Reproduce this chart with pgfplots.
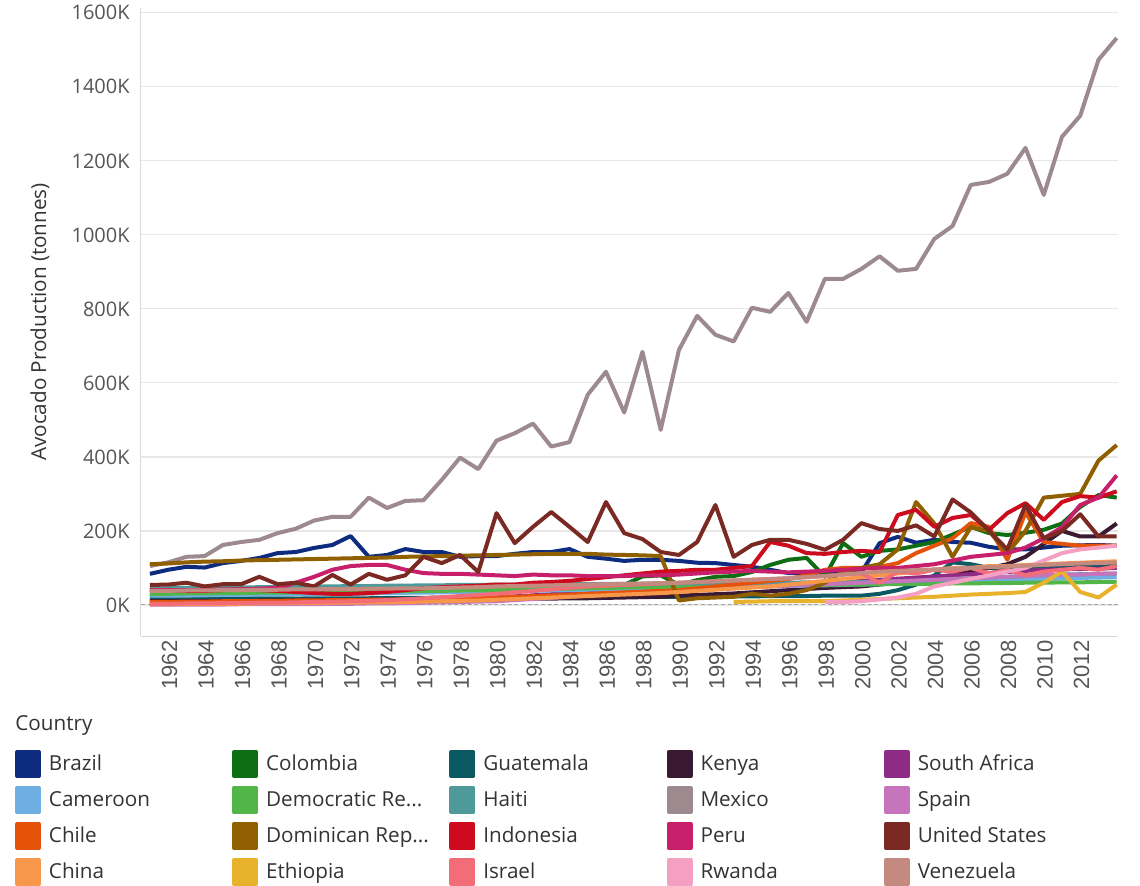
\documentclass[border=0pt]{standalone}
\usepackage{pgfplots}
\pgfplotsset{compat=1.18}
\usepackage{pgfplotstable}
\usepackage{fontspec}
\setmainfont{Open Sans}
\newfontfamily\tickfont{Liberation Sans}

\definecolor{cBra}{HTML}{0D2C7F}
\definecolor{cCam}{HTML}{6FAEE2}
\definecolor{cChl}{HTML}{E5530B}
\definecolor{cChn}{HTML}{F7974B}
\definecolor{cCol}{HTML}{0E6E14}
\definecolor{cCod}{HTML}{52B548}
\definecolor{cDom}{HTML}{8F5F00}
\definecolor{cEth}{HTML}{E8B22D}
\definecolor{cGua}{HTML}{0B5962}
\definecolor{cHai}{HTML}{4E9A9A}
\definecolor{cInd}{HTML}{CE0A1F}
\definecolor{cIsr}{HTML}{F26D78}
\definecolor{cKen}{HTML}{3A1A33}
\definecolor{cMex}{HTML}{9D8A8F}
\definecolor{cPer}{HTML}{C81F6A}
\definecolor{cRwa}{HTML}{F5A0C3}
\definecolor{cZaf}{HTML}{8E2C85}
\definecolor{cEsp}{HTML}{C675BC}
\definecolor{cUsa}{HTML}{7A2A22}
\definecolor{cVen}{HTML}{C48A80}
\definecolor{tickgray}{HTML}{555555}
\definecolor{legtext}{HTML}{333333}

% production in thousand tonnes, one row per country
\pgfplotstableread{
name 1961 1962 1963 1964 1965 1966 1967 1968 1969 1970 1971 1972 1973 1974 1975 1976 1977 1978 1979 1980 1981 1982 1983 1984 1985 1986 1987 1988 1989 1990 1991 1992 1993 1994 1995 1996 1997 1998 1999 2000 2001 2002 2003 2004 2005 2006 2007 2008 2009 2010 2011 2012 2013 2014
Bra 84 95 103 101 113 119 127 140 143 154 162 186 130 135 151 143 143 130 132 132 138 143 143 151 130 125 119 122 122 119 114 113 108 103 95 86 86 86 86 88 167 184 168 176 170 168 157 150 150 155 160 161 162 160
Cam 25 25 26 26 27 27 28 28 29 29 30 30 31 32 33 33 34 35 35 36 37 38 39 40 41 42 43 44 45 45 46 47 48 49 50 51 52 53 54 55 56 58 60 62 64 65 66 68 69 70 72 73 74 75
Chl 8 8 9 9 10 10 11 11 12 12 13 13 14 14 15 16 17 18 19 20 22 24 26 28 30 32 34 36 38 40 45 50 55 60 65 70 80 95 100 100 103 113 140 160 180 221 211 122 250 170 165 160 160 160
Chn 2 2 2 3 3 3 4 4 5 5 6 6 7 7 8 9 10 11 12 14 16 18 20 22 24 26 28 30 32 35 38 41 44 47 50 55 60 65 70 75 80 85 90 95 100 100 105 105 108 110 112 114 116 118
Col 25 25 26 26 27 27 28 28 29 30 30 31 32 33 34 35 36 37 38 40 40 41 42 43 45 48 54 77 80 54 67 76 78 89 108 122 127 76 167 130 146 150 160 170 190 211 194 189 195 203 220 265 297 290
Cod 30 30 31 31 32 32 33 33 34 35 35 36 36 37 37 38 38 39 39 40 41 42 43 44 45 46 47 48 49 50 50 51 52 52 53 53 54 54 55 55 56 56 57 57 58 58 59 59 60 60 61 61 62 62
Dom 110 112 115 117 118 120 121 122 123 124 125 126 127 128 130 131 132 133 134 135 136 137 138 138 138 136 135 134 132 12 18 20 22 30 25 30 40 60 90 100 110 150 278 220 130 210 200 140 200 290 295 300 390 432
Eth nan nan nan nan nan nan nan nan nan nan nan nan nan nan nan nan nan nan nan nan nan nan nan nan nan nan nan nan nan nan nan nan 8 9 10 10 10 10 12 14 16 18 20 22 25 28 30 32 35 60 90 35 20 55
Gua 15 15 15 16 16 16 17 17 17 18 18 18 18 19 19 19 20 20 20 20 21 21 21 21 22 22 22 22 22 22 22 23 23 23 24 24 24 25 25 25 30 40 55 80 115 110 100 95 100 100 103 105 107 110
Hai 45 45 46 46 47 47 48 48 49 50 50 51 51 52 52 53 53 54 54 55 55 55 56 56 56 57 57 57 58 58 58 59 59 60 60 60 61 61 62 62 63 64 65 67 70 72 74 76 78 80 82 83 84 85
Ind 40 40 38 38 40 42 40 38 35 32 30 30 32 35 40 45 48 50 52 55 55 60 62 65 70 75 80 85 90 92 95 95 100 105 170 160 140 138 143 146 143 243 257 211 235 243 203 248 275 230 278 294 290 307
Isr 3 3 4 4 5 5 6 6 7 8 9 10 11 13 15 18 21 24 27 30 34 38 42 46 50 52 54 56 58 60 62 64 66 68 70 72 75 78 82 85 60 90 85 95 90 100 85 95 80 90 95 100 95 105
Ken 10 10 10 11 11 11 12 12 12 13 13 13 14 14 14 15 15 15 16 16 16 17 17 18 18 19 20 21 22 25 27 29 31 34 37 40 43 46 48 50 55 60 65 75 80 90 100 110 130 165 200 185 185 220
Mex 105 115 130 132 162 170 176 194 206 228 238 238 290 262 281 283 338 398 367 444 464 490 428 440 568 630 520 684 473 689 781 730 712 803 792 843 765 881 881 908 942 903 908 989 1024 1135 1143 1165 1235 1108 1265 1322 1473 1532
Per 40 40 40 40 42 42 44 46 60 76 95 105 108 108 95 86 84 84 82 80 78 82 80 80 78 78 78 80 80 82 85 88 90 92 90 88 90 92 95 98 100 100 105 110 120 130 135 140 155 180 210 270 290 350
Rwa nan nan nan nan nan nan nan nan nan nan nan nan nan nan nan nan nan nan nan nan nan nan nan nan nan nan nan nan nan nan nan nan nan nan nan nan nan 8 8 10 15 20 30 50 60 70 80 90 100 120 140 150 155 160
Zaf 2 2 3 3 3 4 4 5 5 5 6 7 8 9 10 12 14 16 18 20 23 26 29 32 35 37 39 41 43 45 47 49 51 53 55 57 59 61 63 65 68 71 74 77 80 83 86 89 92 95 96 97 98 100
Esp 1 1 1 1 1 2 2 2 2 2 3 3 4 4 5 6 7 8 9 10 13 16 19 22 25 28 31 34 37 40 42 44 46 48 50 52 54 56 58 60 62 64 66 68 70 72 74 76 78 80 81 82 84 85
Usa 54 55 60 50 56 56 76 56 60 50 81 55 84 68 80 130 113 135 89 248 167 211 251 211 170 278 194 178 143 135 170 270 130 162 176 176 165 149 176 221 205 200 215 185 285 250 200 150 270 180 200 245 185 185
Ven 38 38 39 39 40 40 41 41 42 42 43 43 44 44 45 45 46 47 48 50 51 52 53 54 55 56 57 58 59 60 62 64 66 68 70 72 75 78 82 86 90 92 94 96 98 100 102 104 106 108 110 112 113 115
}\raw
\pgfplotstabletranspose[colnames from=name]\data{\raw}

\newcommand{\series}[3]{%
  \addplot[color=#2] table[x=colnames,y=#1]{\data};
  \addlegendentry{\makebox[137.4pt][l]{#3}}}

\begin{document}
\begin{tikzpicture}
\path[use as bounding box] (0,0) rectangle (855pt,-664.5pt);
\begin{axis}[
  at={(105.75pt,-477pt)}, anchor=south west,
  scale only axis, width=732.75pt, height=471pt,
  xmin=1960.51, xmax=2014.07, ymin=-84, ymax=1613,
  axis lines=left, axis line style={draw=black!15, -, line width=0.75pt},
  ymajorgrids, grid style={draw=black!9, line width=0.9pt},
  major tick length=0pt,
  ytick={0,200,400,600,800,1000,1200,1400,1600},
  yticklabels={0K,200K,400K,600K,800K,1000K,1200K,1400K,1600K},
  yticklabel style={font=\fontsize{15}{18}\selectfont, text=tickgray, xshift=-5pt},
  xtick={1962,1964,...,2012},
  xticklabel style={rotate=90, anchor=east, font=\tickfont\fontsize{16.5}{18}\selectfont, text=tickgray, yshift=-1pt,
    /pgf/number format/.cd, 1000 sep={}, assume math mode=true},
  ylabel={Avocado Production (tonnes)},
  ylabel style={at={(axis description cs:-0.1034,0.5)}, anchor=center, font=\fontsize{15.5}{18}\selectfont, text=legtext},
  every axis plot/.append style={line width=3pt, line join=round, no markers},
  unbounded coords=jump,
  legend columns=5,
  legend image code/.code={\fill[#1] (0pt,-9pt) rectangle (16.5pt,9pt);},
  legend style={at={(axis description cs:-0.129,-0.1815)}, anchor=north west,
    draw=none, fill=none, inner sep=0pt, outer sep=0pt, row sep=6pt,
    font=\fontsize{15.5}{18}\selectfont, text=legtext,
    nodes={inner sep=0pt, outer sep=0pt},
    /tikz/every odd column/.append style={column sep=6pt}},
]
\addplot[forget plot, draw=black!35, dotted, line width=0.75pt] coordinates {(1960.51,0) (2014.07,0)};
\series{Bra}{cBra}{Brazil}
\series{Col}{cCol}{Colombia}
\series{Gua}{cGua}{Guatemala}
\series{Ken}{cKen}{Kenya}
\series{Zaf}{cZaf}{South Africa}
\series{Cam}{cCam}{Cameroon}
\series{Cod}{cCod}{Democratic Re...}
\series{Hai}{cHai}{Haiti}
\series{Mex}{cMex}{Mexico}
\series{Esp}{cEsp}{Spain}
\series{Chl}{cChl}{Chile}
\series{Dom}{cDom}{Dominican Rep...}
\series{Ind}{cInd}{Indonesia}
\series{Per}{cPer}{Peru}
\series{Usa}{cUsa}{United States}
\series{Chn}{cChn}{China}
\series{Eth}{cEth}{Ethiopia}
\series{Isr}{cIsr}{Israel}
\series{Rwa}{cRwa}{Rwanda}
\series{Ven}{cVen}{Venezuela}
\end{axis}
\node[anchor=west, font=\fontsize{15.5}{18}\selectfont, text=legtext] at (8pt,-543.75pt) {Country};
\end{tikzpicture}
\end{document}
